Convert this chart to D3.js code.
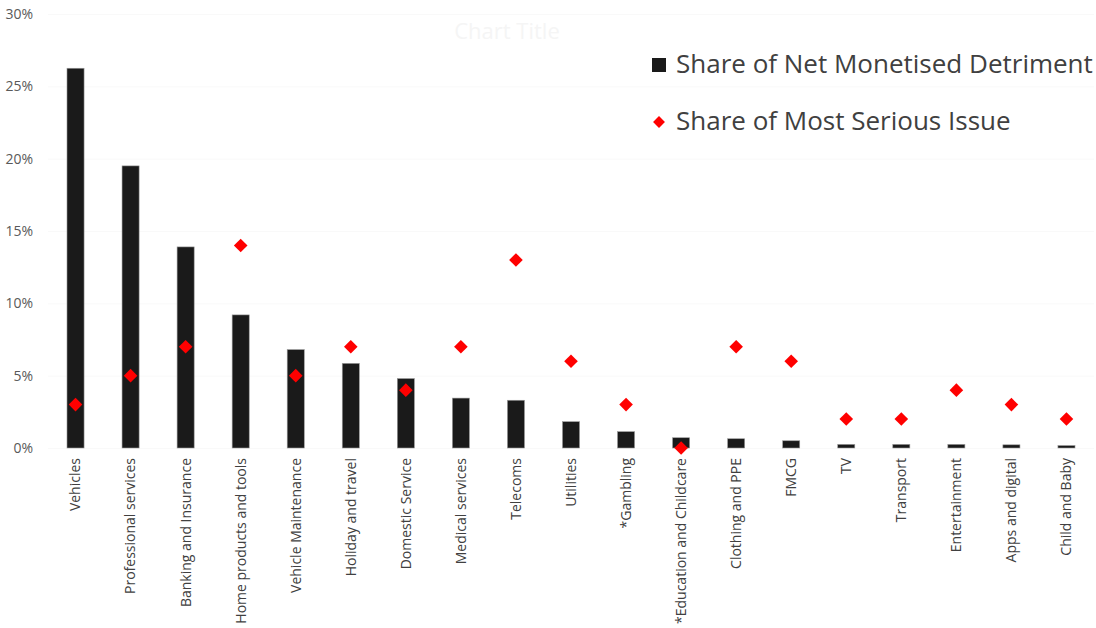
<!DOCTYPE html>
<html>
<head>
<meta charset="utf-8">
<script src="https://cdn.jsdelivr.net/npm/d3@7"></script>
<style>
  html, body { margin: 0; padding: 0; background: #fff; }
  svg { display: block; font-family: "Open Sans", sans-serif; }
</style>
</head>
<body>
<svg id="chart" width="1096" height="628"></svg>
<script>
// Sector categories, in the order plotted
const categories = [
  "Vehicles", "Professional services", "Banking and Insurance", "Home products and tools",
  "Vehicle Maintenance", "Holiday and travel", "Domestic Service", "Medical services",
  "Telecoms", "Utilities", "*Gambling", "*Education and Childcare", "Clothing and PPE",
  "FMCG", "TV", "Transport", "Entertainment", "Apps and digital", "Child and Baby"
];

// Share of net monetised detriment (bars, %)
const detrimentShare = [
  26.25, 19.5, 13.9, 9.2, 6.8, 5.85, 4.8, 3.45, 3.3, 1.82,
  1.13, 0.71, 0.64, 0.5, 0.25, 0.25, 0.25, 0.22, 0.17
];

// Share of most serious issue (diamonds, %)
const seriousIssueShare = [
  3, 5, 7, 14, 5, 7, 4, 7, 13, 6,
  3, 0, 7, 6, 2, 2, 4, 3, 2
];

// Value axis ticks (%)
const yTicks = [0, 5, 10, 15, 20, 25, 30];

const seriesNames = ["Share of Net Monetised Detriment", "Share of Most Serious Issue"];
const chartTitle = "Chart Title";

const svg = d3.select("#chart");
const plot = { left: 48, right: 1094, top: 14, bottom: 448 };

const x = d3.scaleBand()
  .domain(categories)
  .range([plot.left, plot.right])
  .paddingInner(0.69)
  .paddingOuter(0.345);

const y = d3.scaleLinear()
  .domain([0, 30])
  .range([plot.bottom, plot.top]);

// Gridlines
const yAxis = d3.axisLeft(y)
  .tickValues(yTicks)
  .tickSize(plot.left - plot.right)
  .tickFormat(d => d + "%");

const gy = svg.append("g")
  .attr("transform", `translate(${plot.left},0)`)
  .call(yAxis);
gy.select(".domain").remove();
gy.selectAll(".tick line").attr("stroke", "#f9f9f9").attr("stroke-width", 1);
gy.selectAll(".tick text")
  .attr("x", -15)
  .attr("fill", "#595959")
  .style("font-size", "14px")
  .style("font-family", "'Open Sans', sans-serif");

// Faint title
svg.append("text")
  .attr("x", 507)
  .attr("y", 39)
  .attr("text-anchor", "middle")
  .attr("fill", "#f5f5f5")
  .style("font-size", "22px")
  .text(chartTitle);

// Bars
svg.append("g")
  .selectAll("rect")
  .data(categories)
  .join("rect")
  .attr("x", d => x(d))
  .attr("width", x.bandwidth())
  .attr("y", (d, i) => y(detrimentShare[i]))
  .attr("height", (d, i) => y(0) - y(detrimentShare[i]))
  .attr("fill", "#1a1a1a")
  .attr("stroke", "#9a9a9a")
  .attr("stroke-width", 0.6);

// Diamonds
const diamond = d3.symbol().type(d3.symbolDiamond2).size(118);
svg.append("g")
  .selectAll("path")
  .data(categories)
  .join("path")
  .attr("d", diamond)
  .attr("transform", (d, i) => `translate(${x(d) + x.bandwidth() / 2},${y(seriousIssueShare[i])})`)
  .attr("fill", "#ff0000");

// Category axis labels
const xAxis = d3.axisBottom(x).tickSize(0);
const gx = svg.append("g")
  .attr("transform", `translate(0,${plot.bottom})`)
  .call(xAxis);
gx.select(".domain").remove();
gx.selectAll(".tick text")
  .attr("transform", "rotate(-90)")
  .attr("x", -10)
  .attr("y", 0)
  .attr("dy", "0.35em")
  .attr("text-anchor", "end")
  .attr("fill", "#404040")
  .style("font-size", "14px")
  .style("font-family", "'Open Sans', sans-serif");

// Legend
const legend = svg.append("g");
legend.append("rect")
  .attr("x", 652).attr("y", 58)
  .attr("width", 14).attr("height", 14)
  .attr("fill", "#1a1a1a");
legend.append("text")
  .attr("x", 676).attr("y", 73)
  .attr("fill", "#404040")
  .style("font-size", "26px")
  .text(seriesNames[0]);
legend.append("path")
  .attr("d", d3.symbol().type(d3.symbolDiamond2).size(90))
  .attr("transform", "translate(659,122)")
  .attr("fill", "#ff0000");
legend.append("text")
  .attr("x", 676).attr("y", 130)
  .attr("fill", "#404040")
  .style("font-size", "26px")
  .text(seriesNames[1]);
</script>
</body>
</html>
